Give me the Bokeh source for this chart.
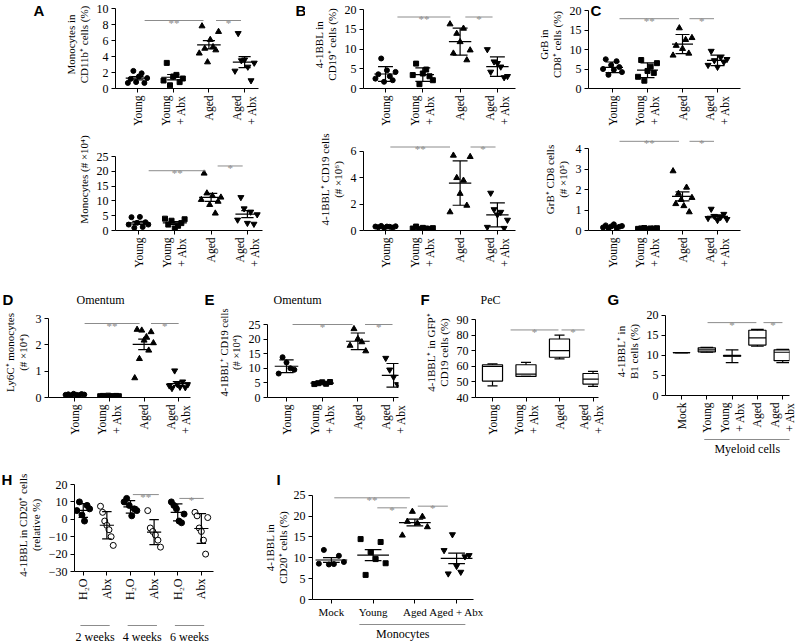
import math
import numpy as np
from bokeh.plotting import figure
from bokeh.models import Range1d, FixedTicker
from bokeh.layouts import row, column
from bokeh.embed import file_html
from bokeh.resources import INLINE
from bokeh.core.properties import value

SERIF = "Liberation Serif"
SANS = "Liberation Sans"
GRAY = "#8c8c8c"
YFS = "12px"
XFS = "11.5px"
LFS = "11px"

# ---------------- data ----------------
groups4 = ["Young", "Young\n+ Abx", "Aged", "Aged\n+ Abx"]

a1_young = [0.7, 1.2, 2.2, 0.8, 1.5, 1.9, 0.7, 1.3]
a1_young_abx = [1.0, 3.2, 0.4, 1.5, 1.7, 0.8, 1.25]
a1_aged = [4.4, 7.8, 5.0, 3.3, 6.1, 5.2, 4.8, 7.1]
a1_aged_abx = [2.2, 6.9, 3.5, 3.6, 2.7, 1.0, 3.2]

a2_young = [2.0, 4.5, 0.9, 2.6, 4.6, 1.2, 2.8, 2.0]
a2_young_abx = [4.0, 2.0, 3.3, 0.7, 1.6, 2.5, 3.8]
a2_aged = [10.4, 19.3, 12.6, 8.7, 11.7, 5.8, 9.8, 11.2]
a2_aged_abx = [3.6, 11.2, 7.4, 2.5, 6.3, 2.2, 5.4]

b1_young = [2.5, 3.6, 7.6, 1.7, 4.6, 3.1, 2.1, 4.2]
b1_young_abx = [3.4, 6.3, 1.1, 3.8, 4.8, 3.1, 2.1]
b1_aged = [16.3, 8.9, 13.9, 11.8, 15.2, 7.2, 9.7]
b1_aged_abx = [9.9, 4.2, 6.8, 6.4, 5.5, 2.8, 3.1]

b2_young = [0.30, 0.25, 0.35, 0.20, 0.30, 0.28, 0.22, 0.32]
b2_young_abx = [0.15, 0.30, 0.10, 0.20, 0.15, 0.12, 0.18]
b2_aged = [1.4, 5.7, 4.0, 2.8, 3.8, 1.9, 5.6]
b2_aged_abx = [0.26, 2.85, 1.6, 1.2, 1.4, 0.18, 0.8]

c1_young = [5.0, 7.5, 3.5, 6.0, 4.8, 7.0, 5.5, 4.2]
c1_young_abx = [3.0, 7.3, 2.0, 4.5, 5.6, 4.0, 6.5]
c1_aged = [8.5, 11.0, 15.5, 10.2, 12.5, 9.0, 13.0]
c1_aged_abx = [6.0, 9.6, 7.2, 5.5, 8.0, 6.8, 7.5]

c2_young = [0.15, 0.25, 0.10, 0.20, 0.30, 0.12, 0.18, 0.22]
c2_young_abx = [0.08, 0.10, 0.12, 0.06, 0.10, 0.09, 0.11]
c2_aged = [2.9, 1.3, 1.8, 1.5, 1.2, 2.1, 0.9, 1.6]
c2_aged_abx = [0.60, 1.05, 0.70, 0.50, 0.65, 0.80, 0.55]

d_young = [0.10, 0.12, 0.08, 0.14, 0.10, 0.09, 0.13, 0.11]
d_young_abx = [0.05, 0.06, 0.03, 0.07, 0.04, 0.05, 0.06, 0.05]
d_aged = [0.74, 2.58, 1.47, 2.55, 2.17, 2.30, 1.79, 2.49, 2.07]
d_aged_abx = [0.45, 0.35, 1.02, 0.50, 0.40, 0.60, 0.38, 0.50]

e_young = [8.2, 13.8, 12.0, 10.0, 9.5]
e_young_abx = [4.6, 4.9, 5.2, 4.7, 5.3]
e_aged = [17.8, 23.5, 20.1, 19.0, 15.9]
e_aged_abx = [13.5, 9.5, 7.0, 4.5, 3.5]

# PeC box plots (min, q1, median, q3, max)
f_min = [47.5, 53.5, 64.7, 47.1]
f_q1 = [50.5, 53.5, 65.8, 48.6]
f_med = [60.0, 55.0, 70.0, 51.8]
f_q3 = [61.0, 61.0, 77.5, 55.4]
f_max = [61.5, 62.5, 80.0, 56.7]

groups_g = ["Mock", "Young", "Young\n+ Abx", "Aged", "Aged\n+ Abx"]
g_min = [10.7, 10.8, 8.2, 12.3, 8.2]
g_q1 = [10.7, 10.9, 9.8, 12.6, 8.7]
g_med = [10.7, 11.4, 9.9, 14.4, 10.8]
g_q3 = [10.7, 11.9, 10.0, 16.3, 11.4]
g_max = [10.7, 12.0, 11.4, 16.5, 11.5]

groups_h = ["H\u2082O", "Abx", "H\u2082O", "Abx", "H\u2082O", "Abx"]
weeks_h = ["2 weeks", "4 weeks", "6 weeks"]
h_2w_h2o = [5.0, 10.0, 2.5, -1.0, 8.0, 6.0]
h_2w_abx = [7.5, 4.0, -1.0, -3.5, -6.0, -10.0, -15.0]
h_4w_h2o = [10.0, 12.0, 8.0, 2.0, 6.0, 5.0]
h_4w_abx = [5.0, -5.0, -7.0, -9.0, -12.0, -16.0]
h_6w_h2o = [10.0, 8.0, 6.0, -1.0, -2.0, 3.0]
h_6w_abx = [4.0, 2.0, -5.0, -7.0, -12.0, -20.0, 1.0]

groups_i = ["Mock", "Young", "Aged", "Aged + Abx"]
i_ylabel = ["4-1BBL in", "CD20\u207a cells (%)"]
i_mock = [8.6, 11.9, 8.4, 8.5, 10.5, 9.0]
i_young = [14.5, 5.9, 11.4, 9.7, 13.8, 8.7]
i_aged = [15.4, 18.7, 21.1, 18.3, 19.9, 17.4]
i_aged_abx = [11.8, 6.2, 15.6, 8.0, 6.6, 10.3, 10.6]

# significance brackets (from, to, height, label) in axis units
sig_a1 = [(1.2, 2.85, 8.5, "**"), (3.2, 3.9, 8.5, "*")]
sig_a2 = [(1.28, 2.85, 20.2, "**"), (3.18, 3.87, 21.8, "*")]
sig_b1 = [(1.32, 2.74, 18.1, "**"), (3.14, 3.87, 18.1, "*")]
sig_b2 = [(1.13, 2.73, 6.34, "**"), (3.28, 3.95, 6.34, "*")]
sig_c1 = [(1.2, 2.9, 17.9, "**"), (3.2, 3.9, 17.9, "*")]
sig_c2 = [(1.2, 2.9, 4.35, "**"), (3.2, 3.9, 4.35, "*")]
sig_d = [(1.28, 2.87, 2.81, "**"), (3.2, 4.0, 2.81, "*")]
sig_e = [(1.17, 2.85, 25.0, "*"), (3.2, 3.97, 25.0, "*")]
sig_f = [(1.54, 2.97, 83.3, "*"), (3.06, 3.75, 83.3, "*")]
sig_g = [(2.03, 3.96, 18.2, "*"), (4.24, 4.99, 18.2, "*")]
sig_h = [(3.1, 4.2, 14.2, "**"), (5.07, 6.1, 12.0, "*")]
sig_i = [(1.07, 2.88, 24.4, "**"), (2.1, 2.81, 22.0, "*"), (3.07, 3.79, 22.4, "*")]


# ---------------- helpers ----------------
def panel(fig_x, fig_y, fig_w, fig_h, fl, fr, ft, fb, xmap, ymap):
    """fig/frame edges in page pixels; xmap/ymap = (value, pixel, pixels per unit)."""
    xv, xp, xs = xmap
    yv, yp, ys = ymap
    X = lambda px: xv + (px - xp) / xs
    Y = lambda py: yv - (py - yp) / ys
    p = figure(width=fig_w, height=fig_h, title=None,
               x_range=Range1d(X(fl), X(fr)), y_range=Range1d(Y(fb), Y(ft)),
               min_border_left=int(fl - fig_x), min_border_right=int(fig_x + fig_w - fr),
               min_border_top=int(ft - fig_y), min_border_bottom=int(fig_y + fig_h - fb),
               output_backend="svg", toolbar_location=None)
    p.grid.visible = False
    p.outline_line_color = None
    return p, X, Y


def axes(p, xlabels, yticks, ylabel, ybounds, orient=math.pi / 2, yover=None, xfs=XFS, lfs=LFS):
    xt = list(range(1, len(xlabels) + 1))
    xa = p.xaxis[0]
    ya = p.yaxis[0]
    xa.ticker = FixedTicker(ticks=xt)
    xa.major_label_overrides = {t: l for t, l in zip(xt, xlabels)}
    xa.major_label_orientation = orient
    ya.ticker = FixedTicker(ticks=yticks)
    if yover:
        ya.major_label_overrides = yover
    ya.bounds = ybounds
    if ylabel:
        ya.axis_label = ylabel
    for ax in (xa, ya):
        ax.axis_line_color = "black"
        ax.axis_line_width = 1
        ax.major_tick_line_color = "black"
        ax.major_tick_out = 4
        ax.major_tick_in = 0
        ax.minor_tick_line_color = None
        ax.major_label_text_font = SERIF
        ax.major_label_text_color = "black"
        ax.major_label_standoff = 3
        ax.major_label_text_line_height = 1.25
        ax.axis_label_text_font = SERIF
        ax.axis_label_text_font_size = lfs
        ax.axis_label_text_font_style = "normal"
        ax.axis_label_text_color = "black"
        ax.axis_label_standoff = 4
        ax.axis_label_text_line_height = 1.05
    ya.major_label_text_font_size = YFS
    xa.major_label_text_font_size = xfs


def swarm(p, groups, markers, fills, spread, err, mhw, chw, size=5.0):
    for i, vals in enumerate(groups):
        c = i + 1
        n = len(vals)
        offs = np.linspace(-spread, spread, n)
        sz = size + 1.0 if "triangle" in markers[i] else size
        p.scatter(x=list(c + offs), y=vals, marker=markers[i], size=sz,
                  fill_color=fills[i], line_color="black", line_width=1)
        m = float(np.mean(vals))
        s = float(np.std(vals, ddof=1))
        e = s if err == "sd" else s / np.sqrt(n)
        p.segment(x0=[c - mhw, c, c - chw, c - chw], y0=[m, m - e, m + e, m - e],
                  x1=[c + mhw, c, c + chw, c + chw], y1=[m, m + e, m + e, m - e],
                  line_color="black", line_width=1.2)


def boxes(p, mins, q1, med, q3, maxs, bw, cw):
    x = np.arange(1, len(med) + 1)
    kw = dict(line_color="black", line_width=1.2)
    p.vbar(x=x, width=bw, bottom=q1, top=q3, fill_color="white", **kw)
    p.segment(x0=x - bw / 2, y0=med, x1=x + bw / 2, y1=med, **kw)
    p.segment(x0=x, y0=q3, x1=x, y1=maxs, **kw)
    p.segment(x0=x, y0=mins, x1=x, y1=q1, **kw)
    p.segment(x0=x - cw / 2, y0=maxs, x1=x + cw / 2, y1=maxs, **kw)
    p.segment(x0=x - cw / 2, y0=mins, x1=x + cw / 2, y1=mins, **kw)


def sig(p, bars):
    for x0, x1, y, t in bars:
        p.segment(x0=[x0], y0=[y], x1=[x1], y1=[y], line_color=GRAY, line_width=1)
        p.text(x=[(x0 + x1) / 2], y=[y], text=[t], text_align="center", text_baseline="alphabetic",
               y_offset=2, text_color=GRAY, text_font=value(SERIF), text_font_size="11px")


def strip(x0, y0, w, h, top=0, bottom=0, left=0, right=0, xr=None):
    """Blank figure; frame x in page pixels (unless a shared x range is given); y = -page_y."""
    s = figure(width=w, height=h, title=None,
               x_range=xr if xr is not None else Range1d(x0 + left, x0 + w - right),
               y_range=Range1d(-(y0 + h - bottom), -(y0 + top)),
               x_axis_type=None, y_axis_type=None,
               min_border_left=left, min_border_right=right,
               min_border_top=top, min_border_bottom=bottom,
               output_backend="svg", toolbar_location=None)
    s.grid.visible = False
    s.outline_line_color = None
    return s


def band(fig_x, y0, w, h, fl, fr, xr):
    return strip(fig_x, y0, w, h, left=int(fl - fig_x), right=int(fig_x + w - fr), xr=xr)


def letter(s, x, y, t):
    s.text(x=[x], y=[-y], text=[t], text_align="left", text_baseline="top",
           text_font=value(SANS), text_font_style="bold", text_font_size="15px", text_color="black")


def caption(s, x, y, t, size="12px", angle=0.0):
    s.text(x=[x], y=[-y], text=[t], text_align="center", text_baseline="middle", angle=angle,
           text_font=value(SERIF), text_font_size=size, text_color="black")


def underline(s, x0, x1, y):
    s.segment(x0=[x0], y0=[-y], x1=[x1], y1=[-y], line_color=GRAY, line_width=1)


M4 = ["circle", "square", "triangle", "inverted_triangle"]
F4 = ["black"] * 4

# ---------------- row 1 (y 0-128): every frame spans y 0-88 ----------------
LA = strip(0, 0, 50, 128, bottom=40)
letter(LA, 33, 1, "A")
A1, X, Y = panel(50, 0, 215, 128, 115, 258, 0, 88, (1, 137, 35.7), (0, 88, 8.0))
axes(A1, groups4, [0, 2, 4, 6, 8, 10], "Monocytes in\nCD11b\u207a cells (%)", (0, 10))
swarm(A1, [a1_young, a1_young_abx, a1_aged, a1_aged_abx], M4, F4, 0.27, "sem", 0.33, 0.17)
sig(A1, sig_a1)

LB = strip(265, 0, 40, 128, bottom=40)
letter(LB, 295, 1, "B")
B1, X, Y = panel(305, 0, 220, 128, 363, 515, 0, 88, (1, 385, 37.3), (0, 88, 3.95))
axes(B1, groups4, [0, 5, 10, 15, 20], "4-1BBL in\nCD19\u207a cells (%)", (0, 20))
swarm(B1, [b1_young, b1_young_abx, b1_aged, b1_aged_abx], M4, F4, 0.27, "sd", 0.3, 0.2)
sig(B1, sig_b1)

C1, X, Y = panel(525, 0, 275, 128, 588, 740, 0, 88, (1, 612, 35.0), (0, 88, 3.9))
axes(C1, groups4, [0, 5, 10, 15, 20], "GrB in\nCD8\u207a cells (%)", (0, 20))
swarm(C1, [c1_young, c1_young_abx, c1_aged, c1_aged_abx], M4, F4, 0.27, "sd", 0.3, 0.2)
sig(C1, sig_c1)
C1.text(x=[X(590)], y=[Y(1)], text=["C"], text_align="left", text_baseline="top",
        text_font=value(SANS), text_font_style="bold", text_font_size="15px", text_color="black")

# ---------------- row 2 (y 128-290): frames span y 128-230 ----------------
A2, X, Y = panel(0, 128, 265, 162, 115, 262, 128, 230, (1, 138, 36.3), (0, 230, 2.96))
axes(A2, groups4, [0, 5, 10, 15, 20, 25], "Monocytes (# \u00d710\u2074)", (0, 25))
swarm(A2, [a2_young, a2_young_abx, a2_aged, a2_aged_abx], M4, F4, 0.27, "sem", 0.33, 0.17)
sig(A2, sig_a2)

B2, X, Y = panel(265, 128, 260, 162, 363, 515, 128, 230, (1, 385, 37.3), (0, 230, 13.17))
axes(B2, groups4, [0, 2, 4, 6], "4-1BBL\u207a CD19 cells\n(# \u00d710\u2076)", (0, 6))
swarm(B2, [b2_young, b2_young_abx, b2_aged, b2_aged_abx], M4, F4, 0.27, "sd", 0.3, 0.2)
sig(B2, sig_b2)

C2, X, Y = panel(525, 128, 275, 162, 588, 740, 128, 230, (1, 612, 35.0), (0, 230, 20.5))
axes(C2, groups4, [0, 1, 2, 3, 4], "GrB\u207a CD8 cells\n(# \u00d710\u2075)", (0, 4))
swarm(C2, [c2_young, c2_young_abx, c2_aged, c2_aged_abx], M4, F4, 0.27, "sem", 0.3, 0.2)
sig(C2, sig_c2)

# ---------------- strip with letters / titles for row 3 (y 290-307) ----------------
T3 = strip(0, 290, 800, 17)
letter(T3, 2, 290, "D")
letter(T3, 204, 290, "E")
letter(T3, 420, 290, "F")
letter(T3, 607, 290, "G")
caption(T3, 100, 299.5, "Omentum")
caption(T3, 297, 299.5, "Omentum")
caption(T3, 490, 299.5, "PeC")

# ---------------- row 3 (y 307-470) ----------------
D, X, Y = panel(0, 307, 203, 163, 45, 190, 307, 397, (1, 72, 35.3), (0, 397, 26.33))
axes(D, groups4, [0, 1, 2, 3], "Ly6C\u207a monocytes\n(# \u00d710\u2074)", (0, 3))
swarm(D, [d_young, d_young_abx, d_aged, d_aged_abx], M4, F4, 0.27, "sem", 0.33, 0.17)
sig(D, sig_d)

E, X, Y = panel(203, 307, 212, 163, 267, 398, 307, 397, (1, 286, 35.7), (0, 397, 2.92))
axes(E, groups4, [0, 5, 10, 15, 20, 25], "4-1BBL\u207a CD19 cells\n(# \u00d710\u2074)", (0, 25),
     lfs="10.5px")
swarm(E, [e_young, e_young_abx, e_aged, e_aged_abx], M4, F4, 0.22, "sd", 0.33, 0.2)
sig(E, sig_e)

F, X, Y = panel(415, 307, 189, 163, 475, 598, 307, 397, (1, 492, 33.5), (40, 397, 1.56))
axes(F, groups4, [40, 50, 60, 70, 80, 90], "4-1BBL\u207a in GFP\u207a\nCD19 cells (%)", (40, 90))
boxes(F, f_min, f_q1, f_med, f_q3, f_max, 0.6, 0.3)
sig(F, sig_f)

G, X, Y = panel(604, 307, 196, 128, 665, 789, 307, 396, (1, 681, 25.3), (0, 396, 4.05))
axes(G, groups_g, [0, 5, 10, 15, 20], "4-1BBL\u207a in\nB1 cells (%)", (0, 20))
boxes(G, g_min, g_q1, g_med, g_q3, g_max, 0.68, 0.5)
sig(G, sig_g)
Gb = band(604, 435, 196, 35, 665, 789, G.x_range)
underline(Gb, 1.9, 5.3, 439)
caption(Gb, 3.6, 448, "Myeloid cells")

# ---------------- row 4 (y 470-644) ----------------
LH = strip(0, 470, 14, 174)
letter(LH, 1, 470, "H")

H, X, Y = panel(14, 470, 236, 148, 70, 213, 478, 571, (1, 79, 24.3), (20, 484, 1.74))
axes(H, groups_h, [-30, -20, -10, 0, 10, 20], "4-1BBL in CD20\u207a cells\n(relative %)", (-30, 20),
     yover={-10: "\u221210", -20: "\u221220", -30: "\u221230"}, xfs="12px")
swarm(H, [h_2w_h2o, h_2w_abx, h_4w_h2o, h_4w_abx, h_6w_h2o, h_6w_abx],
      ["circle"] * 6, ["black", "white"] * 3, 0.27, "sd", 0.3, 0.2, size=6)
sig(H, sig_h)
Hb = band(14, 618, 236, 26, 70, 213, H.x_range)
for k, wk in enumerate(weeks_h):
    c = 1.5 + 2 * k
    underline(Hb, c - 0.62, c + 0.62, 625)
    caption(Hb, c, 636, wk)

LI = strip(250, 470, 40, 174)
letter(LI, 276, 470, "I")
caption(LI, 269, 547, i_ylabel[0], size=LFS, angle=math.pi / 2)
caption(LI, 282, 547, i_ylabel[1], size=LFS, angle=math.pi / 2)

I, X, Y = panel(290, 470, 510, 150, 311, 473, 485, 601, (1, 330, 42.0), (0, 601, 4.24))
axes(I, groups_i, [0, 5, 10, 15, 20, 25], None, (0, 25), orient="horizontal", xfs="11px")
I.xaxis[0].major_label_standoff = 2
swarm(I, [i_mock, i_young, i_aged, i_aged_abx], M4, F4, 0.3, "sem", 0.38, 0.2)
sig(I, sig_i)
Ib = band(290, 620, 510, 24, 311, 473, I.x_range)
underline(Ib, 1.67, 4.21, 624)
caption(Ib, 2.71, 633, "Monocytes")

layout = column(
    row(LA, A1, LB, B1, C1),
    row(A2, B2, C2),
    T3,
    row(D, E, F, column(G, Gb)),
    row(LH, column(H, Hb), LI, column(I, Ib)),
)

open("out.html", "w").write(file_html(layout, INLINE))
